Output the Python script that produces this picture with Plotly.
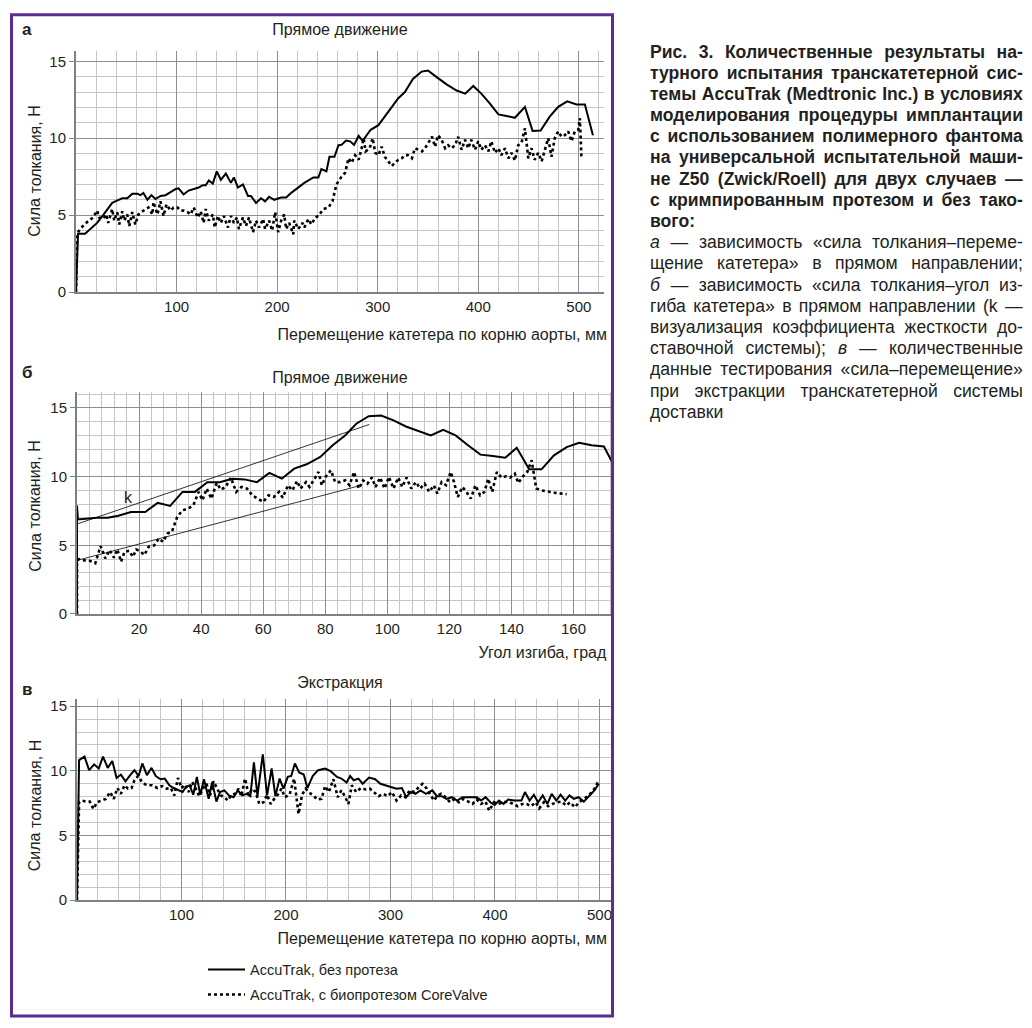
import json
import plotly.graph_objects as go

# ---------------- data ----------------
# Panel a: force vs displacement (forward), mm / N
a_solid_x = [0, 2, 9, 14, 21, 27, 36, 39, 46, 51, 56, 61, 64, 67, 71, 75, 79, 84, 89, 94, 99, 102, 107, 112, 117, 122,
             126, 129, 132, 136, 140, 144, 149, 154, 157, 161, 166, 171, 174, 179, 184, 188, 192, 197, 204, 209, 214,
             221, 227, 236, 241, 244, 249, 252, 257, 261, 264, 268.5, 272.5, 276.5, 281, 285, 289, 293, 300.7, 307,
             314, 320.5, 327, 335, 343.7, 350, 358.6, 368.5, 378.5, 387, 395, 403, 411.6, 420, 428, 436.4, 446.4, 454,
             462, 471, 479.5, 488.4, 497.7, 506, 514]
a_solid_y = [0, 3.8, 3.8, 4.1, 4.5, 5.0, 5.8, 5.9, 6.1, 6.1, 6.4, 6.4, 6.3, 6.45, 6.0, 6.3, 6.05, 6.25, 6.3, 6.5, 6.7,
             6.75, 6.35, 6.6, 6.7, 6.8, 6.95, 6.95, 7.25, 7.05, 7.85, 7.3, 7.7, 7.1, 7.45, 6.8, 7.0, 6.25, 6.25, 5.8,
             6.1, 5.9, 6.2, 6.0, 6.15, 6.15, 6.45, 6.8, 7.1, 7.45, 7.45, 8.0, 7.85, 8.8, 8.8, 9.55, 9.57, 9.85, 9.8,
             9.57, 10.15, 9.83, 10.2, 10.55, 10.85, 11.4, 12.0, 12.6, 13.0, 13.85, 14.33, 14.4, 13.97, 13.5, 13.1,
             12.9, 13.4, 12.9, 12.25, 11.55, 11.45, 11.33, 12.04, 10.47, 10.5, 11.4, 12.04, 12.4, 12.2, 12.2, 10.2]

a_dot_x = [0, 1.3, 4, 6.7, 10, 14, 17, 21, 23, 27, 30, 32, 36, 38, 41, 43, 46, 48, 51, 53, 56, 59, 62, 66, 69, 72, 76,
           77, 81, 84, 87, 90, 94, 97, 101, 104, 107, 111, 114, 117, 121, 124, 127, 129, 132, 136, 138, 141, 144,
           147, 151, 154, 157, 160, 162, 166, 169, 172, 176, 179, 182, 186, 188, 192, 195, 198, 201, 204, 207, 209,
           212, 216, 217, 221, 225, 227, 231, 234, 238, 241, 246, 251, 255, 259, 264, 267.5, 271, 274, 277.5, 281,
           284, 286, 288, 292, 295, 297.5, 300.7, 304, 307, 310.6, 314, 317, 320.5, 324, 327, 330, 334, 337, 340,
           344, 347, 350, 354, 357, 360, 363.5, 367, 370, 373.5, 377, 380, 383.4, 386.8, 390, 393, 396.7, 400, 403,
           406.6, 410, 413, 416.6, 420, 423, 426.5, 430, 433, 436.4, 439.7, 443, 446.4, 449.7, 453, 456, 459.6, 463,
           466, 469.5, 472.8, 476, 479.5, 482.8, 486, 489.4, 492.7, 496, 499.4, 501, 502.6]
a_dot_y = [0, 3.8, 4.1, 4.3, 4.5, 4.7, 4.85, 5.3, 4.85, 4.75, 5.05, 4.5, 5.4, 4.65, 5.2, 4.4, 5.25, 4.65, 5.05, 4.3,
           5.2, 4.4, 5.05, 5.25, 5.4, 5.5, 5.05, 5.85, 5.05, 5.9, 4.95, 5.7, 5.3, 5.5, 5.5, 5.3, 5.3, 5.2, 5.05, 5.5,
           4.85, 5.25, 4.5, 5.4, 4.65, 5.05, 4.2, 4.95, 4.5, 4.95, 4.2, 4.95, 4.5, 4.85, 4.1, 4.85, 4.3, 4.85, 3.9,
           4.65, 4.2, 4.75, 4.1, 4.65, 4.0, 5.2, 3.9, 4.65, 5.05, 4.1, 4.5, 3.75, 4.65, 4.1, 4.5, 4.2, 4.75, 4.4,
           4.85, 4.95, 5.4, 5.5, 5.9, 7.0, 7.5, 7.75, 8.7, 8.4, 8.9, 8.6, 9.35, 10.0, 9.15, 9.35, 10.0, 9.05, 8.9,
           9.45, 8.8, 8.5, 8.2, 8.4, 8.6, 8.7, 8.9, 8.9, 8.7, 9.35, 9.25, 9.15, 9.35, 9.7, 10.1, 9.45, 10.2, 9.9,
           9.35, 9.55, 9.35, 9.55, 10.1, 9.25, 9.9, 9.35, 9.9, 9.25, 9.8, 9.25, 9.55, 9.15, 9.8, 9.05, 9.35, 8.9,
           9.35, 8.7, 9.05, 8.55, 9.55, 9.7, 10.65, 8.7, 9.35, 8.6, 9.05, 8.5, 9.25, 10.0, 8.8, 10.0, 10.45, 10.1,
           10.2, 10.45, 9.8, 10.45, 10.55, 11.3, 8.7]

# Panel b: force vs bending angle, deg / N
b_solid_x = [0, 0, 0.3, 3.6, 6.4, 9.9, 13.3, 17.4, 22, 26, 30, 34, 38, 42, 46, 50, 54, 58, 62, 66, 70, 74, 78.4,
             82.4, 86.4, 90, 94, 98, 102, 106, 110, 114, 118, 122, 126, 130, 134, 138, 141.7, 145.7, 149.7, 153.7,
             157.8, 161.8, 165.8, 169.8, 174]
b_solid_y = [0, 7.9, 6.88, 6.95, 7.0, 7.0, 7.15, 7.43, 7.43, 8.09, 7.87, 8.89, 8.89, 9.6, 9.6, 9.85, 9.8, 9.6, 10.27,
             9.85, 10.58, 10.9, 11.43, 12.28, 13.0, 13.85, 14.4, 14.45, 14.1, 13.65, 13.3, 13.0, 13.4, 13.0, 12.28,
             11.6, 11.5, 11.38, 12.1, 10.53, 10.53, 11.55, 12.15, 12.47, 12.28, 12.2, 10.39]

b_dot_x = [0, 0, 0.7, 2.4, 4.1, 5.9, 7.6, 9.1, 10.5, 11.9, 13, 14.2, 15.3, 16.8, 18, 19.1, 20.6, 21.7, 23.1, 24.9,
           26.4, 27.7, 29.2, 30.6, 32.3, 34, 35.8, 37.5, 39.2, 40.4, 41.8, 43.3, 45, 46.4, 47.9, 49.6, 51.3, 53,
           54.8, 56.5, 58.2, 60, 61.7, 63.4, 65.1, 66.3, 68, 69.4, 70.9, 72, 73.8, 74.9, 76.6, 77.8, 78.9, 80.1,
           81.8, 83.2, 84.7, 86.4, 87.8, 89.3, 90.8, 92.2, 93.6, 95, 96.2, 97.7, 99.1, 100.5, 102, 103.5, 104.8,
           106.2, 107.7, 109.2, 110.6, 112, 113.5, 115, 116.1, 117.5, 118.9, 120.4, 121.5, 122.7, 124.2, 125.5,
           126.9, 128.4, 129.9, 131.3, 132.5, 133.8, 135.3, 136.8, 138.2, 139.6, 141.1, 142.2, 143.7, 145.1, 146.5,
           148, 149.7, 152, 154.3, 157.8]
b_dot_y = [0, 3.9, 4.0, 3.9, 3.87, 3.7, 4.94, 4.05, 4.65, 4.1, 4.7, 3.8, 4.53, 4.6, 4.16, 4.7, 4.53, 4.29, 4.9, 5.0,
           5.5, 5.25, 5.86, 6.0, 7.07, 7.55, 7.67, 7.92, 8.89, 8.28, 9.13, 8.4, 9.54, 9.05, 9.25, 9.93, 8.89, 9.25,
           9.13, 8.64, 8.4, 8.16, 8.64, 8.52, 8.89, 8.47, 9.37, 9.0, 9.68, 9.13, 9.6, 9.25, 9.85, 10.34, 9.37, 9.98,
           10.46, 9.6, 9.6, 9.73, 9.37, 10.34, 9.13, 9.73, 9.49, 9.93, 9.25, 9.93, 9.13, 9.98, 9.13, 9.93, 9.25,
           9.93, 9.13, 9.6, 9.13, 9.49, 8.89, 9.37, 8.77, 9.6, 9.37, 10.34, 9.6, 8.52, 9.25, 8.89, 8.4, 9.37, 8.64,
           8.89, 9.85, 8.89, 10.34, 9.93, 10.02, 9.93, 10.22, 9.54, 10.02, 10.34, 11.19, 9.13, 9.0, 8.89, 8.81, 8.72]

# stiffness visualisation lines (k)
k_upper_x = [0, 94.2]
k_upper_y = [6.55, 13.8]
k_lower_x = [0, 91.6]
k_lower_y = [3.9, 9.37]

# Panel c: extraction, mm / N
c_solid_x = [0, 2, 7.2, 11.6, 16.4, 20.8, 24.9, 29.4, 33.8, 37.9, 42, 46.4, 50.9, 55, 59, 62.5, 66.9, 71.3, 75.4,
             79.9, 84, 88.4, 92.5, 96.6, 101, 104.4, 107.8, 111.3, 114.7, 118, 121.5, 126, 129.4, 133.4, 136.9, 141,
             145.4, 149.8, 153.9, 158, 162.5, 165.9, 169.3, 172.7, 177.8, 181.9, 186.3, 189.8, 193.9, 197.6, 201.7,
             205, 208.5, 212.6, 217, 220.5, 225.6, 230.7, 237.5, 242.7, 248.8, 253, 258, 261.4, 264.8, 269.3, 273.4,
             279.5, 285.3, 290.4, 295.6, 300.7, 305.8, 311, 315, 319.5, 323.9, 328.7, 334, 340, 344.4, 349, 353.6,
             358.7, 363.8, 369, 375.8, 382.6, 386.7, 391, 395.6, 399.7, 403.8, 408.2, 412.6, 418.4, 425.3, 428.7,
             433.1, 437.2, 441.3, 445.7, 450.2, 454.3, 458.7, 462.8, 467.2, 471.3, 475.4, 479.9, 485, 490, 495.2,
             499.3]
c_solid_y = [0, 10.83, 11.1, 10.05, 10.5, 10.18, 11.1, 10.23, 10.76, 9.45, 9.71, 9.19, 9.66, 10.05, 9.6, 10.57, 9.66,
             10.23, 9.6, 9.35, 9.4, 8.88, 8.67, 8.49, 8.36, 8.75, 8.88, 8.15, 9.53, 8.15, 9.35, 7.83, 9.14, 7.62, 8.36,
             8.49, 8.1, 7.96, 8.49, 8.1, 8.22, 8.04, 10.65, 8.04, 11.28, 8.1, 10.18, 8.04, 9.4, 8.62, 9.53, 9.6, 10.57,
             9.87, 9.71, 8.67, 9.6, 10.05, 10.18, 9.97, 9.53, 9.4, 9.09, 9.6, 9.27, 9.4, 9.0, 9.48, 9.35, 9.0, 8.88,
             8.75, 8.62, 8.67, 7.96, 8.36, 8.22, 8.49, 8.22, 8.49, 8.04, 8.04, 7.83, 7.96, 7.7, 7.96, 7.96, 7.96, 7.7,
             7.96, 7.57, 7.36, 7.7, 7.44, 7.78, 7.7, 7.7, 8.36, 7.7, 8.15, 7.57, 8.1, 7.44, 8.22, 7.7, 8.15, 7.7, 8.1,
             7.83, 7.96, 7.62, 8.04, 8.49, 9.0]

c_dot_x = [0, 2, 4.4, 8.9, 12.3, 15.7, 19.1, 23.5, 27.6, 31.7, 35.2, 38.6, 42, 45.4, 48.8, 52.2, 55, 58.4, 62.5,
           66.9, 72, 77, 81.6, 85.7, 89.8, 93.2, 96.6, 100, 103.4, 106.8, 110.2, 113.7, 117, 120.5, 123.9, 127.3,
           130.7, 134.1, 137.5, 141, 144.4, 147.8, 151.2, 154.6, 157.3, 160.8, 164.2, 167.6, 171, 174.4, 178.5,
           181.9, 185.3, 188.7, 192.2, 195.6, 199, 203.4, 207.8, 212, 215.4, 218.8, 222.2, 226.3, 229.7, 234, 237.5,
           241, 245.4, 249.5, 253, 256.3, 259.7, 263, 267.2, 271.7, 276, 280.2, 284.3, 288.7, 293.2, 297.3, 301.4,
           305.8, 310.2, 314.3, 318.4, 322.9, 326.3, 330.7, 334.8, 338.2, 341.6, 345, 348.5, 352.6, 357, 361.4,
           365.5, 369.6, 374, 378.5, 382.6, 386.7, 391, 394.5, 399, 403, 408.2, 412.6, 417.4, 421.8, 426.3, 430.4,
           434.5, 439, 442.3, 446.8, 450.9, 455, 459.5, 464, 468, 472, 476.5, 481, 485, 489, 493.5, 497, 499.3]
c_dot_y = [0, 7.57, 7.7, 7.62, 7.62, 7.05, 7.57, 7.7, 7.83, 8.36, 7.83, 8.67, 8.22, 8.88, 8.62, 8.67, 9.27, 9.6, 9.09,
           8.88, 8.88, 8.67, 8.82, 8.62, 8.67, 8.1, 9.45, 8.67, 8.93, 8.36, 9.14, 8.62, 8.04, 8.62, 9.0, 8.1, 9.19,
           8.62, 8.1, 7.96, 7.7, 8.15, 8.22, 8.62, 8.04, 9.4, 8.15, 8.62, 8.36, 7.44, 7.57, 8.15, 7.44, 7.83, 8.15,
           8.62, 7.96, 8.15, 9.4, 6.66, 8.15, 8.62, 8.3, 8.1, 7.78, 7.83, 8.82, 8.36, 9.35, 7.96, 8.49, 8.04, 7.44,
           8.88, 8.36, 8.67, 8.56, 8.62, 8.36, 8.04, 8.22, 8.04, 8.36, 7.7, 8.1, 7.96, 8.49, 8.36, 8.67, 9.0, 8.62,
           8.1, 7.7, 8.1, 8.22, 7.96, 7.57, 7.83, 7.57, 7.83, 7.62, 7.44, 7.78, 7.44, 7.62, 6.92, 7.57, 7.44, 7.57,
           7.62, 7.44, 7.26, 7.44, 7.44, 7.26, 7.57, 7.1, 7.57, 7.26, 7.44, 7.57, 7.62, 7.31, 7.57, 7.18, 7.62, 7.78,
           8.1, 8.36, 8.88, 9.27]

y_tickvals = [0, 5, 10, 15]
y_ticktext = ["0", "5", "10", "15"]
ac_tickvals = [100, 200, 300, 400, 500]
ac_ticktext = ["100", "200", "300", "400", "500"]
b_tickvals = [20, 40, 60, 80, 100, 120, 140, 160]
b_ticktext = ["20", "40", "60", "80", "100", "120", "140", "160"]

series_names = ["AccuTrak, без протеза", "AccuTrak, с биопротезом CoreValve"]
panel_titles = ["Прямое движение", "Прямое движение", "Экстракция"]
panel_letters = ["а", "б", "в"]
x_titles = ["Перемещение катетера по корню аорты, мм", "Угол изгиба, град",
            "Перемещение катетера по корню аорты, мм"]
y_title = "Сила толкания, Н"

caption_bold = [
    "Рис. 3. Количественные результаты на-",
    "турного испытания транскатетерной сис-",
    "темы AccuTrak (Medtronic Inc.) в условиях",
    "моделирования процедуры имплантации",
    "с использованием полимерного фантома",
    "на универсальной испытательной маши-",
    "не Z50 (Zwick/Roell) для двух случаев —",
    "с кримпированным протезом и без тако-",
    "вого:",
]
caption_plain = [
    "<i>а</i> — зависимость «сила толкания–переме-",
    "щение катетера» в прямом направлении;",
    "<i>б</i> — зависимость «сила толкания–угол из-",
    "гиба катетера» в прямом направлении (k —",
    "визуализация коэффициента жесткости до-",
    "ставочной системы); <i>в</i> — количественные",
    "данные тестирования «сила–перемещение»",
    "при экстракции транскатетерной системы",
    "доставки",
]

# ---------------- layout helpers ----------------
W, H = 1032, 1028
FONT = "Liberation Sans, Arial, sans-serif"
TXT = "#231f20"


def fx(p):
    return p / W


def fy(p):
    return 1 - p / H


# rough Arial/Liberation advance widths (em); only an initial guess, refined in the browser
_CW = {
    'а': .556, 'б': .562, 'в': .531, 'г': .364, 'д': .583, 'е': .556, 'ж': .706, 'з': .454, 'и': .560,
    'й': .560, 'к': .440, 'л': .560, 'м': .687, 'н': .549, 'о': .556, 'п': .547, 'р': .556, 'с': .500,
    'т': .414, 'у': .500, 'ф': .889, 'х': .500, 'ц': .569, 'ч': .523, 'ш': .813, 'щ': .832, 'ъ': .615,
    'ы': .721, 'ь': .519, 'э': .509, 'ю': .772, 'я': .541, '.': .278, ',': .278, '(': .333, ')': .333,
    '/': .278, ':': .278, ';': .278, '-': .333, '—': 1.0, '–': .556, '«': .556, '»': .556, 'i': .222,
    'l': .222, 't': .278, 'r': .333, 'I': .278,
}


def est_width(word, size, bold):
    plain = word.replace("<i>", "").replace("</i>", "")
    w = sum(_CW.get(ch, 0.58) for ch in plain)
    return w * size * (1.12 if bold else 1.0)


panels = [
    dict(xd=(76, 604), yd=(49, 293), xr=[0, 525], yr=[0, 15.7], tv=ac_tickvals, tt=ac_ticktext, minor=20),
    dict(xd=(77, 612), yd=(394, 618), xr=[0, 172.4], yr=[0, 16.15], tv=b_tickvals, tt=b_ticktext, minor=4),
    dict(xd=(77, 612), yd=(704, 907), xr=[0, 512], yr=[0, 15.54], tv=ac_tickvals, tt=ac_ticktext, minor=20),
]

fig = go.Figure()

solid_style = dict(color="black", width=2)
dot_style = dict(color="black", width=2.6, dash="dot")

data_sets = [
    (a_solid_x, a_solid_y, a_dot_x, a_dot_y),
    (b_solid_x, b_solid_y, b_dot_x, b_dot_y),
    (c_solid_x, c_solid_y, c_dot_x, c_dot_y),
]
for i, (sx, sy, dx, dy) in enumerate(data_sets):
    xa = "x" if i == 0 else f"x{i+1}"
    ya = "y" if i == 0 else f"y{i+1}"
    fig.add_trace(go.Scatter(x=sx, y=sy, mode="lines", line=solid_style, name=series_names[0],
                             xaxis=xa, yaxis=ya, showlegend=(i == 0), legendgroup="g1"))
    fig.add_trace(go.Scatter(x=dx, y=dy, mode="lines", line=dot_style, name=series_names[1],
                             xaxis=xa, yaxis=ya, showlegend=(i == 0), legendgroup="g2"))

for kx, ky in [(k_upper_x, k_upper_y), (k_lower_x, k_lower_y)]:
    fig.add_trace(go.Scatter(x=kx, y=ky, mode="lines", line=dict(color="black", width=0.8),
                             xaxis="x2", yaxis="y2", showlegend=False, hoverinfo="skip"))

layout = dict(
    width=W, height=H, margin=dict(l=0, r=0, t=0, b=0),
    paper_bgcolor="white", plot_bgcolor="white",
    font=dict(family=FONT, size=15, color=TXT),
    showlegend=True,
    legend=dict(x=fx(203), y=fy(961), xanchor="left", yanchor="top",
                font=dict(family=FONT, size=14.5, color=TXT), bgcolor="rgba(0,0,0,0)",
                itemwidth=37, traceorder="grouped", tracegroupgap=3),
)

MAJOR = "#8e8e8e"
MINOR = "#c6c6c6"
AXIS = "#808080"
for i, p in enumerate(panels):
    sx = "xaxis" if i == 0 else f"xaxis{i+1}"
    sy = "yaxis" if i == 0 else f"yaxis{i+1}"
    anchor_y = "y" if i == 0 else f"y{i+1}"
    anchor_x = "x" if i == 0 else f"x{i+1}"
    layout[sx] = dict(
        domain=[fx(p["xd"][0]), fx(p["xd"][1])], range=p["xr"], anchor=anchor_y,
        tickmode="array", tickvals=p["tv"], ticktext=p["tt"],
        showgrid=True, gridcolor=MAJOR, gridwidth=1,
        minor=dict(tickmode="linear", tick0=0, dtick=p["minor"], showgrid=True, gridcolor=MINOR, gridwidth=1),
        showline=True, linecolor=AXIS, linewidth=2, zeroline=False, ticks="",
        tickfont=dict(family=FONT, size=15, color=TXT), fixedrange=True,
    )
    layout[sy] = dict(
        domain=[fy(p["yd"][1]), fy(p["yd"][0])], range=p["yr"], anchor=anchor_x,
        tickmode="array", tickvals=y_tickvals, ticktext=y_ticktext,
        showgrid=True, gridcolor=MAJOR, gridwidth=1,
        minor=dict(tickmode="linear", tick0=0, dtick=1, showgrid=True, gridcolor=MINOR, gridwidth=1),
        showline=True, linecolor=AXIS, linewidth=2, zeroline=False,
        ticks="outside", ticklen=5, tickcolor=AXIS,
        tickfont=dict(family=FONT, size=15, color=TXT), fixedrange=True,
    )
fig.update_layout(**layout)

ann = []
groups = []


def add_words(text, y, mode, L, R, size, bold=False, xv=None):
    """One annotation per word; positions are refined in the browser (see post_script).
    mode 'vcenter': text rotated -90 deg, centred on pixel row L at pixel column xv."""
    words = text.split(" ")
    widths = [est_width(w, size, bold) for w in words]
    space = 0.278 * size
    n = len(words)
    tot = sum(widths)
    gap = space
    idx = []
    if mode == "vcenter":
        cur = L + (tot + gap * (n - 1)) / 2
        for w, wd in zip(words, widths):
            idx.append(len(ann))
            ann.append(dict(text=w, x=fx(xv), y=fy(cur - wd / 2), xref="paper", yref="paper",
                            textangle=-90, xanchor="center", yanchor="middle", showarrow=False,
                            font=dict(size=size, color=TXT, family=FONT)))
            cur -= wd + gap
        groups.append(dict(idx=idx, mode=mode, L=L, R=R, space=space))
        return
    if mode == "justify" and n > 1:
        gap = max((R - L - tot) / (n - 1), 0.6 * space)
        x = L
    elif mode == "right":
        x = R - tot - gap * (n - 1)
    elif mode == "center":
        x = (L + R) / 2 - (tot + gap * (n - 1)) / 2
    else:
        x = L
    for w, wd in zip(words, widths):
        idx.append(len(ann))
        ann.append(dict(text=("<b>" + w + "</b>") if bold else w, x=fx(x), y=fy(y),
                        xref="paper", yref="paper", xanchor="left", yanchor="middle",
                        showarrow=False, font=dict(size=size, color=TXT, family=FONT)))
        x += wd + gap
    groups.append(dict(idx=idx, mode=mode, L=L, R=R, space=space))


title_y = [28, 379, 687]
letter_pos = [(20, 28), (20, 374), (20, 694)]
xtitle_y = [336, 657, 946]
for i, p in enumerate(panels):
    add_words(panel_titles[i], title_y[i], "center", 340, 340, 16)
    ann.append(dict(text="<b>" + panel_letters[i] + "</b>", x=fx(letter_pos[i][0]), y=fy(letter_pos[i][1]),
                    xref="paper", yref="paper", xanchor="left", yanchor="middle", showarrow=False,
                    font=dict(size=17)))
    add_words(x_titles[i], xtitle_y[i], "right", 607, 607, 16)
    yc = (p["yd"][0] + p["yd"][1]) / 2
    add_words(y_title, None, "vcenter", yc, yc, 16, xv=35)

ann.append(dict(text="k", x=16.5, y=8.5, xref="x2", yref="y2", showarrow=False,
                xanchor="center", yanchor="middle", font=dict(size=16)))

# caption: justified lines, last line of each paragraph left aligned
CAP_L, CAP_R, CAP_SIZE = 650, 1023, 17.6
cap_lines = [(t, True, j == len(caption_bold) - 1) for j, t in enumerate(caption_bold)] + \
            [(t, False, j == len(caption_plain) - 1) for j, t in enumerate(caption_plain)]
for j, (t, bold, last) in enumerate(cap_lines):
    add_words(t, 50 + j * 21.4, "left" if last else "justify", CAP_L, CAP_R, CAP_SIZE, bold)

fig.update_layout(annotations=ann)

fig.add_shape(type="rect", xref="paper", yref="paper", x0=fx(11.5), x1=fx(612.5), y0=fy(1024), y1=fy(13),
              line=dict(color="#5b2d8e", width=3), fillcolor="rgba(0,0,0,0)", layer="above")

# browser-side word placement using the real rendered text sizes
js = (
    "document.body.style.margin='0px';"
    "document.documentElement.style.overflow='hidden';"
    "(function(){"
    "var gd=document.getElementById('{plot_id}');"
    "var groups=" + json.dumps(groups) + ";"
    "var box=gd.getBoundingClientRect();var baseL=box.left,baseT=box.top;"
    "groups.forEach(function(g){"
    " var els=g.idx.map(function(i){return gd.querySelector('g.annotation[data-index=\"'+i+'\"] text.annotation-text');});"
    " if(els.some(function(e){return !e;}))return;"
    " var n=els.length,gap=g.space,x;"
    " if(g.mode==='vcenter'){"
    "  var hs=els.map(function(e){return e.getBoundingClientRect().height;});"
    "  var th=hs.reduce(function(a,b){return a+b;},0);"
    "  var cy=g.L+(th+gap*(n-1))/2;"
    "  els.forEach(function(e,k){"
    "   var bottom=e.getBoundingClientRect().bottom-baseT;"
    "   var s=cy-bottom;var t=e.getAttribute('transform')||'';"
    "   e.setAttribute('transform',t+' translate('+(-s)+',0)');"
    "   cy-=hs[k]+gap;"
    "  });"
    "  return;"
    " }"
    " var ws=els.map(function(e){return e.getBoundingClientRect().width;});"
    " var tot=ws.reduce(function(a,b){return a+b;},0);"
    " if(g.mode==='justify'&&n>1){gap=(g.R-g.L-tot)/(n-1);if(gap<g.space*0.6)gap=g.space*0.6;}"
    " if(g.mode==='right'){x=g.R-tot-gap*(n-1);}"
    " else if(g.mode==='center'){x=(g.L+g.R)/2-(tot+gap*(n-1))/2;}"
    " else{x=g.L;}"
    " els.forEach(function(e,k){"
    "  var cur=e.getBoundingClientRect().left-baseL;"
    "  var t=e.getAttribute('transform')||'';"
    "  e.setAttribute('transform',t+' translate('+(x-cur)+',0)');"
    "  x+=ws[k]+gap;"
    " });"
    "});"
    "})();"
)

fig.write_html(
    "out.html",
    config={"displayModeBar": False, "staticPlot": True},
    post_script=js,
)
